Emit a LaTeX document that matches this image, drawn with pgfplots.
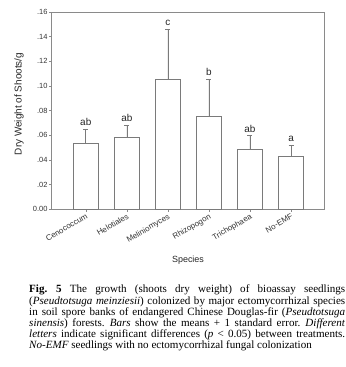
\documentclass[border=0pt]{standalone}
\usepackage{pgfplots}
\pgfplotsset{compat=1.18}
\usepackage{fontspec}
\setmainfont{Liberation Serif}
\newfontfamily\arialf{Liberation Sans}
\definecolor{linegray}{HTML}{7A7A7A}
\definecolor{axisgray}{HTML}{8A8A8A}
\begin{document}
\begin{tikzpicture}
\useasboundingbox (0,0) rectangle (346bp,367bp);
\begin{axis}[
  at={(51.7bp,157.7bp)}, anchor=south west,
  scale only axis, width=272.6bp, height=197.3bp,
  xmin=-0.83, xmax=5.81, ymin=0, ymax=0.16,
  xtick={0,1,2,3,4,5},
  xticklabels={Cenococcum,Helotiales,Meliniomyces,Rhizopogon,Trichophaea,No-EMF},
  ytick={0,0.02,0.04,0.06,0.08,0.10,0.12,0.14,0.16},
  yticklabels={0.00,.02,.04,.06,.08,.10,.12,.14,.16},
  tick align=outside, tick pos=left,
  major tick length=2.5bp,
  axis line style={axisgray, line width=0.6pt},
  every tick/.style={axisgray, line width=0.5pt},
  tick label style={font=\arialf\fontsize{7.5}{8.5}\selectfont, text=black!80},
  xticklabel style={rotate=30, anchor=north east, inner sep=1pt, font=\arialf\fontsize{8}{9}\selectfont},
  yticklabel style={inner sep=1.5pt},
  ylabel={Dry Weight of Shoots/g},
  ylabel style={font=\arialf\fontsize{10}{11}\selectfont, text=black!85, at={(axis description cs:-0.12,0.534)}, anchor=center},
  xlabel={Species},
  xlabel style={font=\arialf\fontsize{9}{10}\selectfont, text=black!85, at={(axis description cs:0.5,-0.256)}, anchor=center},
  ybar, bar width=25bp,
  nodes near coords style={font=\arialf\fontsize{10}{11}\selectfont, text=black!85},
]
\addplot[draw=linegray, fill=white, line width=0.6pt,
  error bars/.cd, y dir=plus, y explicit,
  error bar style={linegray, line width=0.6pt},
  error mark options={rotate=90, mark size=2.5bp, linegray, line width=0.6pt}]
  coordinates {
  (0,0.0532) +- (0,0.0119)
  (1,0.0581) +- (0,0.0100)
  (2,0.1054) +- (0,0.0408)
  (3,0.0754) +- (0,0.0303)
  (4,0.0487) +- (0,0.0110)
  (5,0.0427) +- (0,0.0092)
  };
\addplot[only marks, mark=none, nodes near coords, point meta=explicit symbolic,
  nodes near coords align={above}, every node near coord/.append style={yshift=0pt}]
  coordinates {
  (0,0.0651) [ab]
  (1,0.0681) [ab]
  (2,0.1462) [c]
  (3,0.1057) [b]
  (4,0.0597) [ab]
  (5,0.0519) [a]
  };
\end{axis}
\node[anchor=north west, inner sep=0pt, text width=316bp, align=justify,
  font=\fontsize{11.1}{11.07}\selectfont] at (29bp,367bp-285bp)
{\spaceskip=0.25em plus 0.3em minus 0.12em \xspaceskip=0.3em plus 0.3em minus 0.12em
\textbf{Fig. 5} The growth (shoots dry weight) of bioassay seedlings\linebreak
(\textit{Pseudtotsuga meinziesii}) colonized by major ectomycorrhizal species\linebreak
in soil spore banks of endangered Chinese Douglas-fir (\textit{Pseudtotsuga}\linebreak
\textit{sinensis}) forests. \textit{Bars} show the means + 1 standard error. \textit{Different}\linebreak
\textit{letters} indicate significant differences (\textit{p} < 0.05) between treatments.\linebreak
\textit{No-EMF} seedlings with no ectomycorrhizal fungal colonization};
\end{tikzpicture}
\end{document}
